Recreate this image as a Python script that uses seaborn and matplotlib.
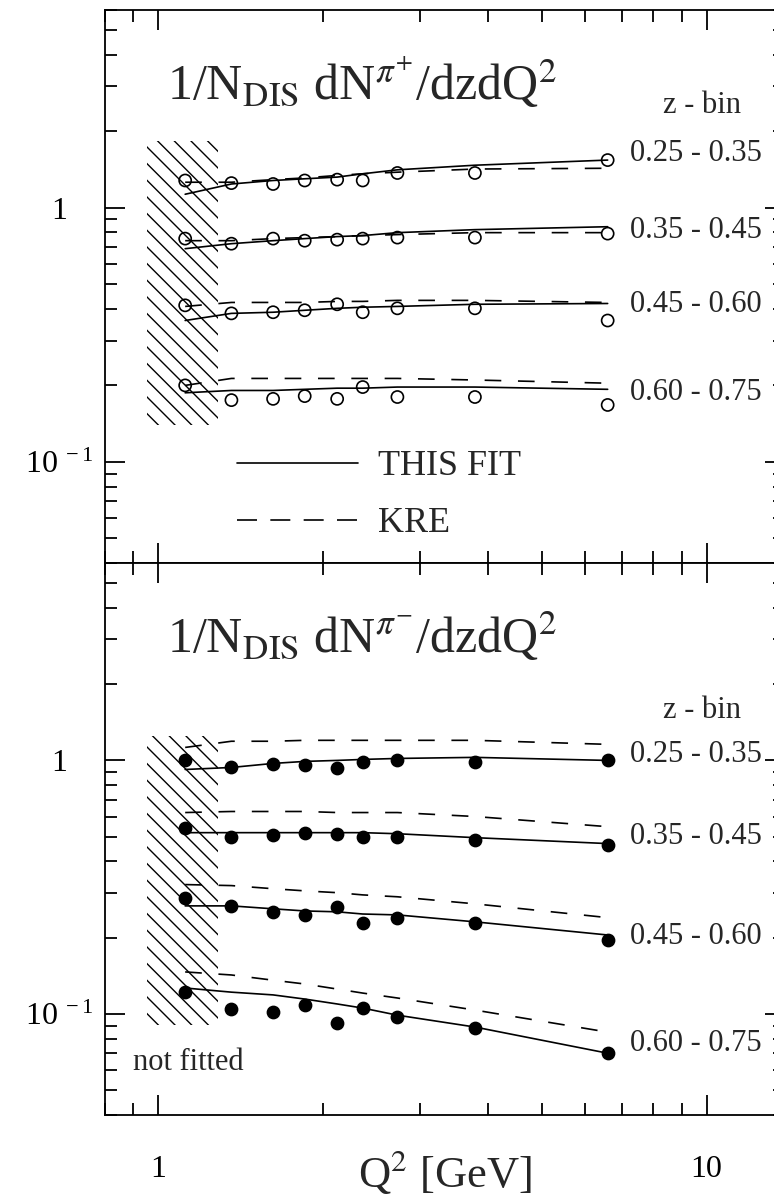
import matplotlib
matplotlib.use("Agg")
import matplotlib.pyplot as plt
import seaborn as sns
from matplotlib.lines import Line2D
from matplotlib.ticker import NullFormatter

# Q^2 bins (same for all curves)
q2 = [1.12, 1.36, 1.62, 1.85, 2.12, 2.36, 2.73, 3.78, 6.6]
z_bins = ["0.25 - 0.35", "0.35 - 0.45", "0.45 - 0.60", "0.60 - 0.75"]

# pi+ : data, this fit, KRE
pip_data = [
    [1.28, 1.25, 1.24, 1.28, 1.29, 1.28, 1.37, 1.37, 1.54],
    [0.756, 0.722, 0.756, 0.742, 0.749, 0.756, 0.763, 0.763, 0.791],
    [0.413, 0.384, 0.388, 0.395, 0.417, 0.388, 0.402, 0.402, 0.360],
    [0.200, 0.175, 0.177, 0.1815, 0.177, 0.197, 0.180, 0.180, 0.1675],
]
pip_fit = [
    [1.13, 1.24, 1.28, 1.30, 1.32, 1.36, 1.41, 1.47, 1.54],
    [0.69, 0.722, 0.742, 0.756, 0.77, 0.777, 0.798, 0.82, 0.842],
    [0.36, 0.384, 0.388, 0.395, 0.402, 0.406, 0.409, 0.417, 0.42],
    [0.187, 0.191, 0.191, 0.193, 0.195, 0.195, 0.197, 0.197, 0.193],
]
pip_kre = [
    [1.26, 1.26, 1.29, 1.31, 1.34, 1.36, 1.38, 1.42, 1.43],
    [0.742, 0.742, 0.756, 0.763, 0.77, 0.777, 0.784, 0.798, 0.798],
    [0.409, 0.424, 0.424, 0.424, 0.428, 0.428, 0.432, 0.432, 0.424],
    [0.200, 0.213, 0.213, 0.213, 0.213, 0.213, 0.213, 0.210, 0.204],
]

# pi- : data, this fit, KRE
pim_data = [
    [1.0, 0.938, 0.964, 0.955, 0.930, 0.982, 1.0, 0.982, 1.0],
    [0.543, 0.501, 0.510, 0.519, 0.514, 0.501, 0.501, 0.487, 0.466],
    [0.287, 0.267, 0.253, 0.246, 0.265, 0.229, 0.239, 0.229, 0.196],
    [0.122, 0.1047, 0.1019, 0.1086, 0.092, 0.1056, 0.0973, 0.088, 0.0701],
]
pim_fit = [
    [0.921, 0.938, 0.973, 0.991, 1.0, 1.009, 1.018, 1.028, 1.0],
    [0.519, 0.519, 0.519, 0.519, 0.519, 0.519, 0.514, 0.496, 0.47],
    [0.267, 0.267, 0.260, 0.255, 0.253, 0.248, 0.246, 0.231, 0.205],
    [0.1267, 0.122, 0.119, 0.1146, 0.1096, 0.1056, 0.099, 0.0889, 0.0701],
]
pim_kre = [
    [1.125, 1.19, 1.19, 1.2, 1.2, 1.2, 1.2, 1.2, 1.157],
    [0.623, 0.629, 0.629, 0.629, 0.623, 0.623, 0.623, 0.601, 0.548],
    [0.324, 0.321, 0.312, 0.306, 0.301, 0.295, 0.290, 0.272, 0.240],
    [0.1466, 0.1426, 0.136, 0.1314, 0.1255, 0.121, 0.1157, 0.1037, 0.0849],
]

# where the z-bin labels sit (Q^2, value)
pip_label_y = [1.63, 0.812, 0.417, 0.187]
pim_label_y = [1.056, 0.501, 0.2016, 0.0768]
label_q2 = 7.24

# not fitted region
nf_q2 = [0.955, 1.286]
pip_nf_y = [0.1397, 1.83]
pim_nf_y = [0.0904, 1.244]

sns.set_theme(style="ticks")
plt.rcParams["font.family"] = ["Liberation Serif", "DejaVu Serif"]
plt.rcParams["mathtext.fontset"] = "stix"
plt.rcParams["hatch.linewidth"] = 1.0
plt.rcParams["axes.linewidth"] = 1.3

fig = plt.figure(figsize=(7.74, 12.01), dpi=100)
ax_top = fig.add_axes([0.1357, 0.5312, 0.8786, 0.4605])
ax_bot = fig.add_axes([0.1357, 0.0716, 0.8786, 0.4596])

panels = [
    (ax_top, pip_data, pip_fit, pip_kre, pip_label_y, pip_nf_y,
     r"1/N$_{\mathrm{DIS}}$ dN$^{\pi^{+}}$/dzdQ$^{2}$", False, 0.814),
    (ax_bot, pim_data, pim_fit, pim_kre, pim_label_y, pim_nf_y,
     r"1/N$_{\mathrm{DIS}}$ dN$^{\pi^{-}}$/dzdQ$^{2}$", True, 0.72),
]

for ax, data, fit, kre, lab_y, nf_y, title, filled, zbin_y in panels:
    ax.set_xscale("log")
    ax.set_yscale("log")

    ax.fill_between(nf_q2, nf_y[0], nf_y[1], facecolor="none", edgecolor="black",
                    hatch="\\\\", linewidth=0, zorder=1)

    for i in range(len(z_bins)):
        sns.lineplot(x=q2, y=fit[i], ax=ax, color="black", linewidth=1.2,
                     estimator=None, sort=False, zorder=2)
        sns.lineplot(x=q2, y=kre[i], ax=ax, color="black", linewidth=1.2,
                     linestyle=(0, (10, 10)), estimator=None, sort=False, zorder=2)
        sns.scatterplot(x=q2, y=data[i], ax=ax, marker="o", s=76,
                        color="black", edgecolor="black",
                        facecolor="black" if filled else "none",
                        linewidth=1.2, zorder=3)
        ax.text(label_q2, lab_y[i], z_bins[i], fontsize=22, ha="left", va="center")

    ax.text(0.878, zbin_y, "z - bin", transform=ax.transAxes, fontsize=22,
            ha="center", va="baseline")
    ax.text(0.091, 0.837, title, transform=ax.transAxes, fontsize=36,
            ha="left", va="baseline")

    ax.set_xlim(0.8, 13.9)
    ax.set_ylim(0.04, 6)
    ax.set_xticks([1, 10])
    ax.set_yticks([0.1, 1])
    ax.set_yticklabels([r"$\mathregular{10^{\ -1}}$", "1"])
    ax.xaxis.set_minor_formatter(NullFormatter())
    ax.yaxis.set_minor_formatter(NullFormatter())
    ax.tick_params(which="both", direction="in", top=True, right=True,
                   width=1.3, color="black", labelsize=23, labelcolor="black")
    ax.tick_params(which="major", length=14.5)
    ax.tick_params(which="minor", length=8.5)
    ax.tick_params(axis="y", pad=33)
    ax.tick_params(axis="x", pad=29)
    for lbl in ax.get_yticklabels():
        lbl.set_horizontalalignment("center")
    for sp in ax.spines.values():
        sp.set_color("black")
        sp.set_linewidth(1.3)
    ax.set_ylabel("")

ax_top.set_xticklabels([])
ax_top.set_xlabel("")
ax_bot.set_xticklabels(["1", "10"])
ax_bot.set_xlabel(r"Q$^{2}$ [GeV]", fontsize=32, va="baseline")
ax_bot.xaxis.set_label_coords(0.5, -0.13)

ax_bot.text(0.041, 0.096, "not fitted", transform=ax_bot.transAxes,
            fontsize=22, ha="left", va="center")

handles = [
    Line2D([], [], color="black", linewidth=1.2, label="THIS FIT"),
    Line2D([], [], color="black", linewidth=1.2, linestyle=(0, (12, 8)), label="KRE"),
]
ax_top.legend(handles=handles, loc="upper left", bbox_to_anchor=(0.194, 0.204),
              frameon=False, fontsize=26, handlelength=3.35, handletextpad=0.55,
              labelspacing=0.65, borderpad=0, borderaxespad=0)

fig.savefig("out.png", dpi=100)
